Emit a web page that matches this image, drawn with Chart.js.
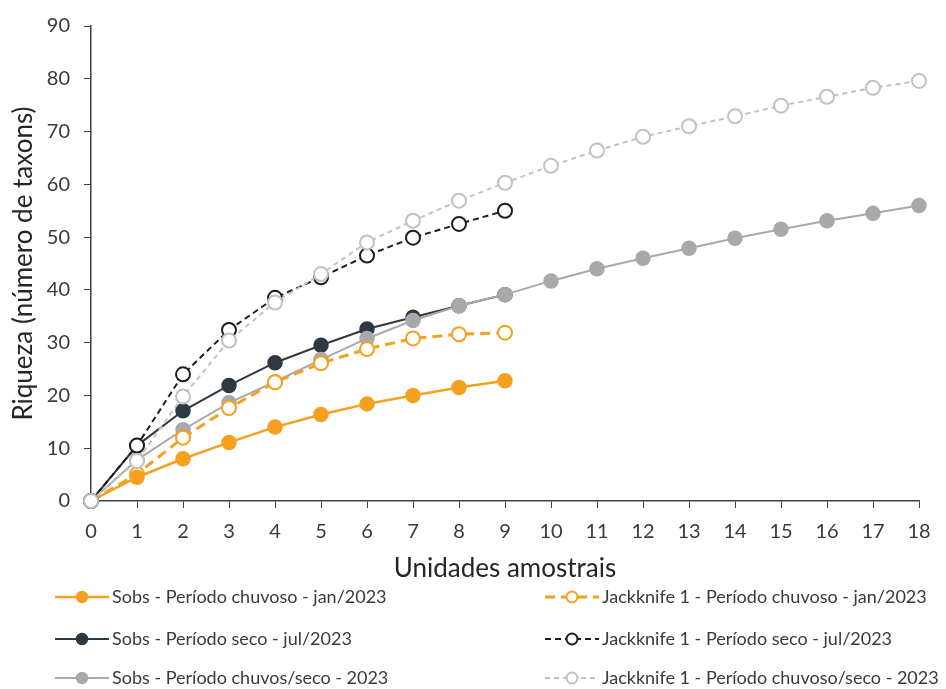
<!DOCTYPE html>
<html>
<head>
<meta charset="utf-8">
<script src="https://cdn.jsdelivr.net/npm/chart.js@4"></script>
<style>
  html, body { margin: 0; padding: 0; background: #fff; }
  #grafico { display: block; }
</style>
</head>
<body>
<canvas id="grafico" width="946" height="689"></canvas>
<script>
// Unidades amostrais (eixo x)
const unidades = [0, 1, 2, 3, 4, 5, 6, 7, 8, 9, 10, 11, 12, 13, 14, 15, 16, 17, 18];

// Riqueza observada e estimada
const sobsChuvoso = [0, 4.5, 8.0, 11.1, 14.0, 16.4, 18.4, 20.0, 21.5, 22.8];
const jackChuvoso = [0, 5.1, 12.0, 17.6, 22.5, 26.1, 28.8, 30.8, 31.6, 31.9];
const sobsSeco = [0, 10.5, 17.1, 21.9, 26.2, 29.5, 32.6, 34.8, 37.0, 39.1];
const jackSeco = [0, 10.5, 24.0, 32.4, 38.5, 42.4, 46.5, 49.9, 52.5, 55.0];
const sobsTotal = [0, 7.8, 13.5, 18.6, 22.6, 26.8, 30.8, 34.2, 37.0, 39.1, 41.7, 44.0, 46.0, 47.9, 49.8, 51.5, 53.1, 54.5, 56.0];
const jackTotal = [0, 7.6, 19.8, 30.4, 37.6, 43.0, 49.0, 53.1, 56.9, 60.3, 63.5, 66.4, 69.0, 71.0, 72.9, 74.9, 76.6, 78.3, 79.6];

const rotulos = [
    'Sobs - Período chuvoso - jan/2023',
    'Jackknife 1 - Período chuvoso - jan/2023',
    'Sobs - Período seco - jul/2023',
    'Jackknife 1 - Período seco - jul/2023',
    'Sobs - Período chuvos/seco - 2023',
    'Jackknife 1 - Período chuvoso/seco - 2023'
];

const laranja = '#F6A01F';
const escuro = '#2D3843';
const cinza = '#A9A9A9';
const cinzaClaro = '#C2C2C2';
const preto = '#1E1E1E';
const fonte = 'Lato, "Open Sans", sans-serif';

function pontos(valores) {
    return valores.map((v, i) => ({ x: unidades[i], y: v }));
}

// Legenda desenhada à mão em duas colunas
const legendaManual = {
    id: 'legendaManual',
    afterDraw(chart) {
        const ctx = chart.ctx;
        const colunas = [55, 545];
        const linhas = [597, 639, 678];
        chart.data.datasets.forEach((ds, i) => {
            const x = colunas[i % 2];
            const y = linhas[Math.floor(i / 2)];
            ctx.save();
            ctx.strokeStyle = ds.borderColor;
            ctx.lineWidth = ds.borderWidth;
            ctx.setLineDash(ds.borderDash || []);
            ctx.beginPath();
            ctx.moveTo(x, y);
            ctx.lineTo(x + 54, y);
            ctx.stroke();
            ctx.setLineDash([]);
            ctx.beginPath();
            ctx.arc(x + 27, y, 5.5, 0, Math.PI * 2);
            ctx.fillStyle = ds.pointBackgroundColor;
            ctx.fill();
            ctx.lineWidth = ds.pointBorderWidth;
            ctx.strokeStyle = ds.pointBorderColor;
            ctx.stroke();
            ctx.fillStyle = '#3a3a3a';
            ctx.font = '18px ' + fonte;
            ctx.textBaseline = 'middle';
            ctx.textAlign = 'left';
            ctx.fillText(rotulos[i], x + 57, y);
            ctx.restore();
        });
    }
};

new Chart(document.getElementById('grafico'), {
    type: 'line',
    data: {
        datasets: [
            {
                label: rotulos[0], data: pontos(sobsChuvoso), order: 3, clip: false,
                borderColor: laranja, borderWidth: 2.5,
                pointBackgroundColor: laranja, pointBorderColor: laranja, pointBorderWidth: 1.5
            },
            {
                label: rotulos[1], data: pontos(jackChuvoso), order: 4, clip: false,
                borderColor: laranja, borderWidth: 3, borderDash: [10, 6],
                pointBackgroundColor: '#ffffff', pointBorderColor: laranja, pointBorderWidth: 2
            },
            {
                label: rotulos[2], data: pontos(sobsSeco), order: 6, clip: false,
                borderColor: escuro, borderWidth: 2,
                pointBackgroundColor: escuro, pointBorderColor: escuro, pointBorderWidth: 1.5
            },
            {
                label: rotulos[3], data: pontos(jackSeco), order: 1, clip: false,
                borderColor: preto, borderWidth: 2, borderDash: [6, 4],
                pointBackgroundColor: '#ffffff', pointBorderColor: preto, pointBorderWidth: 2
            },
            {
                label: rotulos[4], data: pontos(sobsTotal), order: 5, clip: false,
                borderColor: cinza, borderWidth: 2,
                pointBackgroundColor: cinza, pointBorderColor: cinza, pointBorderWidth: 1.5
            },
            {
                label: rotulos[5], data: pontos(jackTotal), order: 0, clip: false,
                borderColor: cinzaClaro, borderWidth: 2, borderDash: [5, 4],
                pointBackgroundColor: '#ffffff', pointBorderColor: cinzaClaro, pointBorderWidth: 2
            }
        ]
    },
    options: {
        responsive: false,
        animation: false,
        devicePixelRatio: 1,
        elements: {
            line: { tension: 0 },
            point: { radius: 7, hoverRadius: 7 }
        },
        layout: {
            padding: { top: 24, right: 27, bottom: 104, left: 0 }
        },
        plugins: {
            legend: { display: false },
            tooltip: { enabled: false }
        },
        scales: {
            x: {
                type: 'linear',
                min: 0,
                max: 18,
                afterFit: s => { s.height = 84; },
                ticks: { stepSize: 1, color: '#3a3a3a', padding: 12, font: { family: fonte, size: 20 } },
                grid: { drawOnChartArea: false, tickLength: 7, color: '#404040' },
                border: { color: '#404040', width: 1.5 },
                title: {
                    display: true,
                    text: 'Unidades amostrais',
                    color: '#262626',
                    font: { family: fonte, size: 26 },
                    padding: { top: 0, bottom: 1 }
                }
            },
            y: {
                min: 0,
                max: 90,
                afterFit: s => { s.width = 91; },
                ticks: { stepSize: 10, color: '#3a3a3a', padding: 14, font: { family: fonte, size: 20 } },
                grid: { drawOnChartArea: false, tickLength: 7, color: '#404040' },
                border: { color: '#404040', width: 1.5 },
                title: {
                    display: true,
                    text: 'Riqueza (número de taxons)',
                    color: '#262626',
                    font: { family: fonte, size: 26 },
                    padding: { top: 8, bottom: 0 }
                }
            }
        }
    },
    plugins: [legendaManual]
});
</script>
</body>
</html>
